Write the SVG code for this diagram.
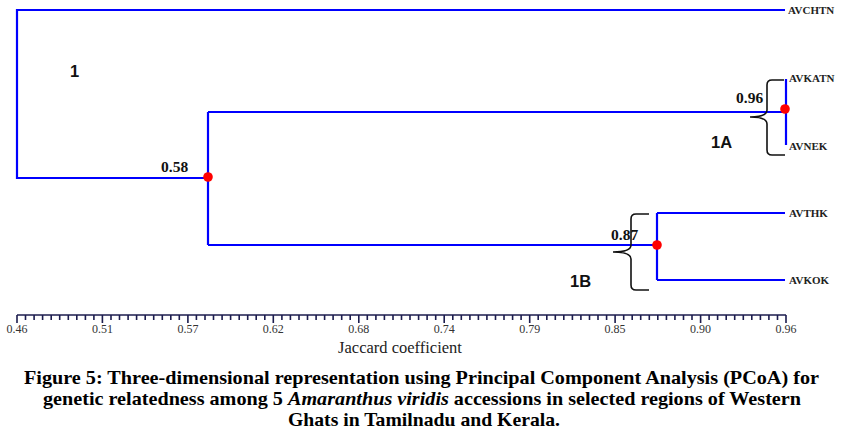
<svg xmlns="http://www.w3.org/2000/svg" width="846" height="437" viewBox="0 0 846 437">
<style>
.br{fill:none;stroke:#0000ff;stroke-width:2.2}
.dot{fill:#ff0000}
.leaf{font-family:"Liberation Serif",serif;font-weight:bold;font-size:11px;fill:#222}
.val{font-family:"Liberation Serif",serif;font-weight:bold;font-size:15.5px;fill:#111}
.grp{font-family:"Liberation Sans",sans-serif;font-weight:bold;font-size:16.5px;fill:#111}
.brace{fill:none;stroke:#111;stroke-width:1.6}
.tick{fill:none;stroke:#1c1c4e;stroke-width:1.6}
.tl{font-family:"Liberation Serif",serif;font-size:12px;fill:#333;text-anchor:middle}
.cap{font-family:"Liberation Serif",serif;font-weight:bold;font-size:19px;fill:#000}
</style>
<rect width="846" height="437" fill="#fff"/>
<g id="connectors">
<path class="br" d="M785 10 H17 V178 H208"/>
<path class="br" d="M208 112 V245"/>
<path class="br" d="M208 112 H786"/>
<path class="br" d="M786 79 V145"/>
<path class="br" d="M208 245 H657"/>
<path class="br" d="M657 213 V280"/>
<path class="br" d="M657 213 H785"/>
<path class="br" d="M657 280 H785"/>
</g>
<g id="node-root"><text class="grp" x="70" y="77">1</text></g>
<g id="node-058"><circle class="dot" cx="208" cy="177" r="4.8"/><text class="val" x="161" y="172">0.58</text></g>
<g id="node-096"><circle class="dot" cx="785" cy="109" r="4.8"/><text class="val" x="736" y="103">0.96</text>
<path class="brace" d="M784 80 H772 Q767 80 767 85 V110 Q767 117 750 117 Q767 117 767 124 V150 Q767 155 772 155 H785"/>
<text class="grp" x="711" y="148">1A</text></g>
<g id="node-087"><circle class="dot" cx="657" cy="245" r="4.8"/><text class="val" x="611" y="240">0.87</text>
<path class="brace" d="M649 214 H636 Q631 214 631 219 V245 Q631 252 613 252 Q631 252 631 259 V285 Q631 290 636 290 H649"/>
<text class="grp" x="570" y="287">1B</text></g>
<g id="leaf-AVCHTN"><text class="leaf" x="788" y="14">AVCHTN</text></g>
<g id="leaf-AVKATN"><text class="leaf" x="789" y="82">AVKATN</text></g>
<g id="leaf-AVNEK"><text class="leaf" x="789" y="150">AVNEK</text></g>
<g id="leaf-AVTHK"><text class="leaf" x="789" y="217">AVTHK</text></g>
<g id="leaf-AVKOK"><text class="leaf" x="789" y="284">AVKOK</text></g>
<g id="axis">
<path class="tick" d="M17 315 H786"/>
<path class="tick" d="M17 315v8M25.5 315v5M34.1 315v5M42.6 315v5M51.2 315v5M59.7 315v5M68.3 315v5M76.8 315v5M85.4 315v5M93.9 315v5M102.4 315v8M111 315v5M119.5 315v5M128.1 315v5M136.6 315v5M145.2 315v5M153.7 315v5M162.3 315v5M170.8 315v5M179.3 315v5M187.9 315v8M196.4 315v5M205 315v5M213.5 315v5M222.1 315v5M230.6 315v5M239.2 315v5M247.7 315v5M256.2 315v5M264.8 315v5M273.3 315v8M281.9 315v5M290.4 315v5M299 315v5M307.5 315v5M316.1 315v5M324.6 315v5M333.1 315v5M341.7 315v5M350.2 315v5M358.8 315v8M367.3 315v5M375.9 315v5M384.4 315v5M393 315v5M401.5 315v5M410 315v5M418.6 315v5M427.1 315v5M435.7 315v5M444.2 315v8M452.8 315v5M461.3 315v5M469.9 315v5M478.4 315v5M486.9 315v5M495.5 315v5M504 315v5M512.6 315v5M521.1 315v5M529.7 315v8M538.2 315v5M546.8 315v5M555.3 315v5M563.8 315v5M572.4 315v5M580.9 315v5M589.5 315v5M598 315v5M606.6 315v5M615.1 315v8M623.7 315v5M632.2 315v5M640.7 315v5M649.3 315v5M657.8 315v5M666.4 315v5M674.9 315v5M683.5 315v5M692 315v5M700.6 315v8M709.1 315v5M717.6 315v5M726.2 315v5M734.7 315v5M743.3 315v5M751.8 315v5M760.4 315v5M768.9 315v5M777.5 315v5M786 315v8"/>
<text class="tl" x="17" y="333">0.46</text>
<text class="tl" x="102.4" y="333">0.51</text>
<text class="tl" x="187.9" y="333">0.57</text>
<text class="tl" x="273.3" y="333">0.62</text>
<text class="tl" x="358.8" y="333">0.68</text>
<text class="tl" x="444.2" y="333">0.74</text>
<text class="tl" x="529.7" y="333">0.79</text>
<text class="tl" x="615.1" y="333">0.85</text>
<text class="tl" x="700.6" y="333">0.90</text>
<text class="tl" x="786" y="333">0.96</text>
<text x="400" y="353" font-family="Liberation Serif, serif" font-size="16.5" fill="#222" text-anchor="middle">Jaccard coefficient</text>
</g>
<g id="caption">
<text class="cap" x="24" y="384" textLength="795" lengthAdjust="spacingAndGlyphs">Figure 5: Three-dimensional representation using Principal Component Analysis (PCoA) for</text>
<text class="cap" x="43" y="405" textLength="758" lengthAdjust="spacingAndGlyphs">genetic relatedness among 5 <tspan font-style="italic">Amaranthus viridis</tspan> accessions in selected regions of Western</text>
<text class="cap" x="288" y="426" textLength="272" lengthAdjust="spacingAndGlyphs">Ghats in Tamilnadu and Kerala.</text>
</g>
</svg>
